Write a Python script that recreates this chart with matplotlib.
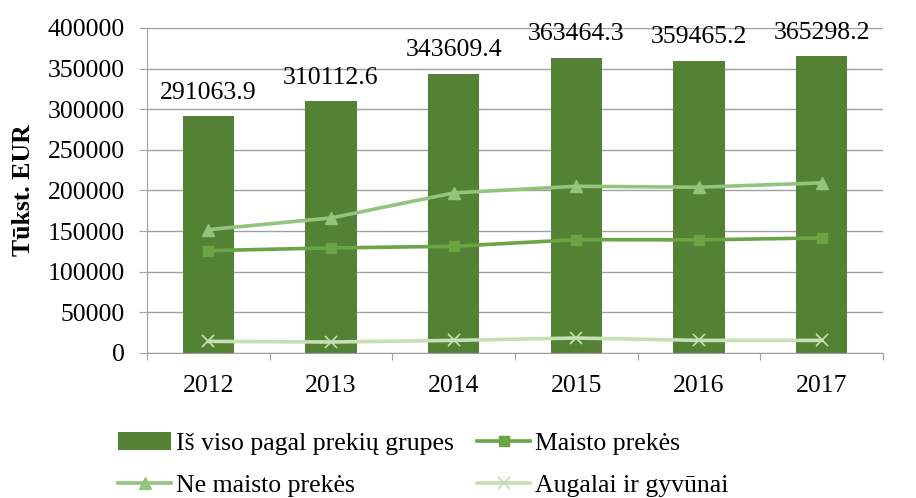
import matplotlib.pyplot as plt
import numpy as np

plt.rcParams['font.family'] = ['Liberation Serif', 'DejaVu Serif']

# duomenys
years = ['2012', '2013', '2014', '2015', '2016', '2017']
total = [291063.9, 310112.6, 343609.4, 363464.3, 359465.2, 365298.2]
food = [126000, 129300, 131300, 139500, 139200, 141600]
non_food = [151800, 166200, 197000, 205200, 204000, 209400]
plants = [14300, 13500, 15500, 18400, 15500, 15500]

c_bar = '#548235'
c_food = '#6AA443'
c_non = '#93C47D'
c_plant = '#C5E0B4'
fs = 18.5

fig = plt.figure(figsize=(9.16, 4.98), dpi=100)
ax = fig.add_axes([0.1605, 0.2912, 0.8035, 0.6526])

x = np.arange(len(years))
ax.bar(x, total, width=0.42, color=c_bar, label='Iš viso pagal prekių grupes', zorder=2)
ax.plot(x, food, color=c_food, lw=2.6, marker='s', ms=7.5, label='Maisto prekės', zorder=3)
ax.plot(x, non_food, color=c_non, lw=2.6, marker='^', ms=8.5, label='Ne maisto prekės', zorder=3)
ax.plot(x, plants, color=c_plant, lw=2.6, marker='x', ms=8, mew=1.2, label='Augalai ir gyvūnai', zorder=3)

for xi, v in zip(x, total):
    ax.annotate(f'{v:.1f}', (xi, v), xytext=(0, 9), textcoords='offset points',
                ha='center', va='bottom', fontsize=fs, annotation_clip=False)

ax.set_xlim(-0.5, len(years) - 0.5)
ax.set_ylim(0, 400000)
ax.set_yticks(np.arange(0, 400001, 50000))
ax.set_xticks(np.arange(-0.5, len(years), 1.0), minor=False)
ax.set_xticklabels([])
ax.set_xticks(x, minor=True)
ax.set_xticklabels(years, minor=True)
ax.tick_params(axis='x', which='major', length=5, color='#a0a0a0')
ax.tick_params(axis='x', which='minor', length=0, labelsize=fs, pad=16)
ax.tick_params(axis='y', length=6, color='#a0a0a0', labelsize=fs, pad=10)
ax.yaxis.grid(True, color='#a0a0a0', lw=1, zorder=0)
ax.set_axisbelow(True)
for s in ['top', 'right']:
    ax.spines[s].set_visible(False)
ax.spines['left'].set_color('#a0a0a0')
ax.spines['bottom'].set_color('#a0a0a0')
ax.set_ylabel('Tūkst. EUR', fontsize=fs, fontweight='bold', labelpad=9)

h, l = ax.get_legend_handles_labels()
# h = [maisto, ne maisto, augalai, is viso]
order = [3, 1, 0, 2]
handles = [h[i] for i in order]
labels = [l[i] for i in order]
fig.legend(handles, labels, loc='lower left', bbox_to_anchor=(0.104, -0.045), ncol=2,
           frameon=False, fontsize=fs, handlelength=2.05, columnspacing=0.9,
           handletextpad=0.2, labelspacing=0.75)

fig.savefig('out.png', dpi=100)
